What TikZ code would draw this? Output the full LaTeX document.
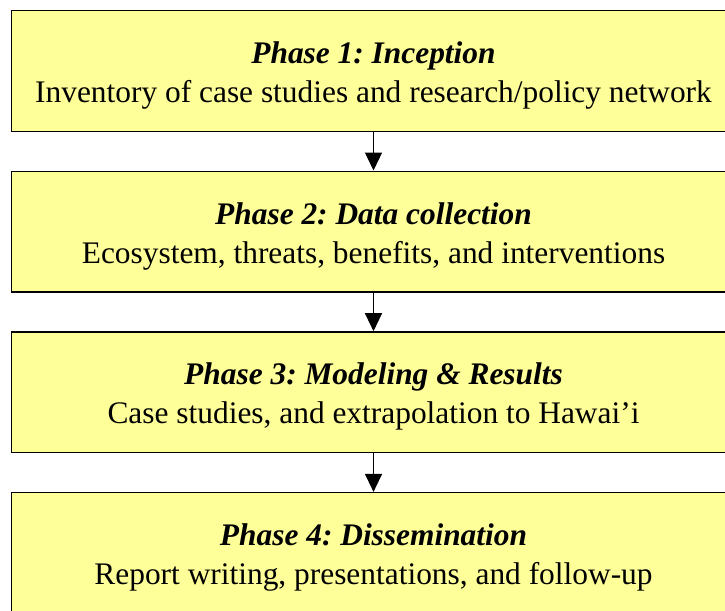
\documentclass[tikz,border=0pt]{standalone}
\usepackage{fontspec}
\setmainfont{Liberation Serif}
\usetikzlibrary{arrows.meta}
\definecolor{boxfill}{HTML}{FFFF99}
\frenchspacing
\begin{document}
\begin{tikzpicture}[x=1pt,y=-1pt,
  phasebox/.style={draw=black,line width=1.5pt,fill=boxfill,minimum width=724pt,minimum height=120.5pt,inner sep=0pt},
  phasetext/.style={inner sep=0pt,align=center,font=\fontsize{31.4}{39}\selectfont,yshift=-4.5pt},
  flowarrow/.style={line width=1.2pt,-{Triangle[width=17pt,length=18pt]}}]
\useasboundingbox (0,0) rectangle (725,610);
\node[phasebox] (p1) at (373.5,71) {};
\node[phasebox] (p2) at (373.5,231.5) {};
\node[phasebox] (p3) at (373.5,392.2) {};
\node[phasebox] (p4) at (373.5,552.9) {};
\node[phasetext] (t1) at (p1.center) {\textbf{\textit{Phase 1: Inception}}\\Inventory of case studies and research/policy network};
\node[phasetext] (t2) at (p2.center) {\textbf{\textit{Phase 2: Data collection}}\\Ecosystem, threats, benefits, and interventions};
\node[phasetext] (t3) at (p3.center) {\textbf{\textit{Phase 3: Modeling \& Results}}\\Case studies, and extrapolation to Hawai’i};
\node[phasetext] (t4) at (p4.center) {\textbf{\textit{Phase 4: Dissemination}}\\Report writing, presentations, and follow-up};
\draw[flowarrow] (p1.south) -- (p2.north);
\draw[flowarrow] (p2.south) -- (p3.north);
\draw[flowarrow] (p3.south) -- (p4.north);
\end{tikzpicture}
\end{document}
